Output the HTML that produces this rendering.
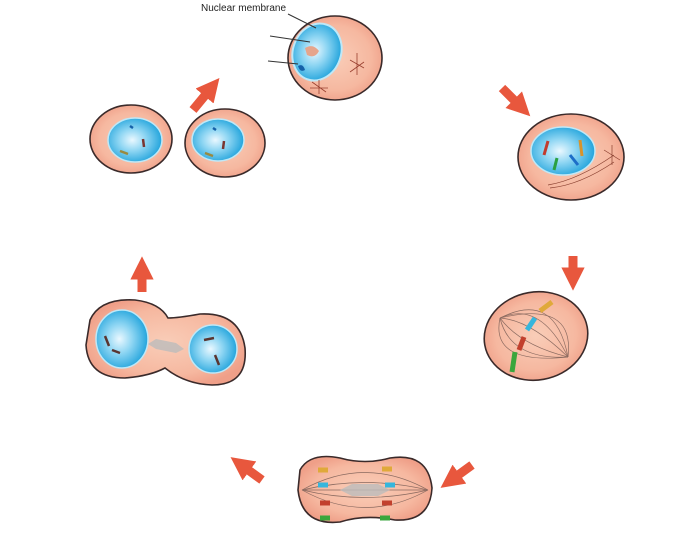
<!DOCTYPE html>
<html><head><meta charset="utf-8"><style>html,body{margin:0;padding:0;background:#fff}svg{display:block}</style></head><body>
<svg width="700" height="550" viewBox="0 0 700 550" xmlns="http://www.w3.org/2000/svg">
<defs>
<radialGradient id="cyt" cx="50%" cy="50%" r="55%"><stop offset="0" stop-color="#f9cdb8"/><stop offset="0.7" stop-color="#f6b8a0"/><stop offset="1" stop-color="#ef9f88"/></radialGradient>
<radialGradient id="nuc" cx="45%" cy="50%" r="55%"><stop offset="0" stop-color="#eaf8ff"/><stop offset="0.45" stop-color="#8fd6f3"/><stop offset="1" stop-color="#22a4dc"/></radialGradient>
<marker id="ah" viewBox="0 0 10 10" refX="5" refY="5" markerWidth="2.6" markerHeight="2.6" orient="auto"><path d="M0,0 L10,5 L0,10 z" fill="#e8573d"/></marker>
</defs>
<g stroke="#e8573d" stroke-width="9" fill="none" marker-end="url(#ah)">
<line x1="193" y1="110" x2="212" y2="87"/>
<line x1="502" y1="88" x2="522" y2="108"/>
<line x1="573" y1="256" x2="573" y2="279"/>
<line x1="472" y1="465" x2="450" y2="481"/>
<line x1="262" y1="480" x2="240" y2="464"/>
<line x1="142" y1="292" x2="142" y2="268"/>
</g>
<!-- top cell -->
<ellipse cx="335" cy="58" rx="47" ry="42" fill="url(#cyt)" stroke="#3a2a2a" stroke-width="1.6"/>
<ellipse cx="317" cy="52" rx="24" ry="29" transform="rotate(20 317 52)" fill="url(#nuc)" stroke="#bfe8f7" stroke-width="2"/>
<path d="M305,48 q8,-5 14,3 q-4,8 -12,4z" fill="#e6a58c"/>
<path d="M298,66 q5,-3 7,4 q-5,3 -7,-4z" fill="#1560a8"/>
<g stroke="#9a4030" stroke-width="0.8"><path d="M350,60 l14,8 M357,53 l0,22 M350,72 l14,-10"/><path d="M310,88 l18,0 M319,80 l0,14 M312,82 l14,10"/></g>
<g stroke="#333" stroke-width="1" fill="none"><path d="M288,14 L316,28"/><path d="M270,36 L310,42"/><path d="M268,61 L298,64"/></g>
<text x="201" y="11" font-family="Liberation Sans, sans-serif" font-size="10" fill="#222">Nuclear membrane</text>
<!-- prophase -->
<ellipse cx="571" cy="157" rx="53" ry="43" fill="url(#cyt)" stroke="#3a2a2a" stroke-width="1.6"/>
<ellipse cx="563" cy="151" rx="32" ry="24" fill="url(#nuc)" stroke="#bfe8f7" stroke-width="1.5"/>
<g stroke-width="3"><path d="M548,141 l-4,14" stroke="#c23b2d"/><path d="M580,140 l2,16" stroke="#d8932b"/><path d="M557,158 l-3,12" stroke="#2aa042"/><path d="M570,155 l8,10" stroke="#1d6ec8"/></g>
<g stroke="#8a4030" stroke-width="0.7" fill="none"><path d="M548,185 q30,-5 66,-30"/><path d="M550,188 q30,-3 64,-26"/><path d="M604,150 l16,10 M612,145 l0,20"/></g>
<!-- metaphase -->
<ellipse cx="536" cy="336" rx="52" ry="44" transform="rotate(-10 536 336)" fill="url(#cyt)" stroke="#3a2a2a" stroke-width="1.6"/>
<g stroke="#8a6a60" stroke-width="0.7" fill="none">
<path d="M500,318 Q540,300 568,357"/><path d="M500,318 Q530,320 568,357"/><path d="M500,318 Q520,345 568,357"/><path d="M500,318 Q510,360 568,357"/><path d="M500,318 Q555,290 568,357"/><path d="M500,318 Q575,300 568,357"/><path d="M500,318 Q490,365 568,357"/></g>
<g stroke-width="5"><path d="M552,302 l-12,9" stroke="#e0a93a"/><path d="M535,318 l-8,12" stroke="#36b6dc"/><path d="M524,337 l-5,13" stroke="#c2402d"/><path d="M515,352 l-3,20" stroke="#3aa63c"/></g>
<!-- anaphase -->
<path d="M300,470 Q310,452 340,458 Q365,465 390,458 Q428,452 432,488 Q430,522 395,520 Q365,514 340,522 Q302,526 298,490 Z" fill="url(#cyt)" stroke="#3a2a2a" stroke-width="1.6"/>
<g stroke="#8a6a60" stroke-width="0.7" fill="none"><path d="M302,490 Q365,455 428,490"/><path d="M302,490 Q365,475 428,490"/><path d="M302,490 Q365,505 428,490"/><path d="M302,490 Q365,525 428,490"/><path d="M302,490 L428,490"/></g>
<path d="M340,490 l12,-6 l26,0 l12,6 l-12,6 l-26,0z" fill="#bbb" opacity="0.8"/>
<g stroke-width="5"><path d="M318,470 h10 M382,469 h10" stroke="#e0a93a"/><path d="M318,485 h10 M385,485 h10" stroke="#36b6dc"/><path d="M320,503 h10 M382,503 h10" stroke="#c2402d"/><path d="M320,518 h10 M380,518 h10" stroke="#3aa63c"/></g>
<!-- telophase -->
<path d="M90,320 Q100,298 135,300 Q160,303 168,318 Q178,318 200,314 Q240,312 245,348 Q248,385 212,385 Q185,384 165,368 Q150,376 125,378 Q88,378 86,345 Z" fill="url(#cyt)" stroke="#3a2a2a" stroke-width="1.6"/>
<ellipse cx="122" cy="339" rx="26" ry="29" fill="url(#nuc)" stroke="#bfe8f7" stroke-width="1.5"/>
<ellipse cx="213" cy="349" rx="24" ry="24" fill="url(#nuc)" stroke="#bfe8f7" stroke-width="1.5"/>
<path d="M148,344 l8,-5 l20,4 l8,6 l-8,4 l-20,-4z" fill="#bbb" opacity="0.8"/>
<g stroke="#5a3530" stroke-width="2.5"><path d="M105,336 l4,10 M112,350 l8,3 M215,355 l4,10 M204,340 l10,-2"/></g>
<!-- daughter cells -->
<ellipse cx="131" cy="139" rx="41" ry="34" fill="url(#cyt)" stroke="#3a2a2a" stroke-width="1.6"/>
<ellipse cx="135" cy="140" rx="27" ry="22" fill="url(#nuc)" stroke="#bfe8f7" stroke-width="1.5"/>
<ellipse cx="225" cy="143" rx="40" ry="34" fill="url(#cyt)" stroke="#3a2a2a" stroke-width="1.6"/>
<ellipse cx="218" cy="140" rx="26" ry="21" fill="url(#nuc)" stroke="#bfe8f7" stroke-width="1.5"/>
<g stroke-width="2.5"><path d="M130,126 l3,2 M213,128 l3,2" stroke="#1560a8"/><path d="M143,139 l1,8 M224,141 l-1,8" stroke="#7a3530"/><path d="M120,151 l8,3 M205,153 l8,3" stroke="#9a8a40"/></g>
</svg>
</body></html>
